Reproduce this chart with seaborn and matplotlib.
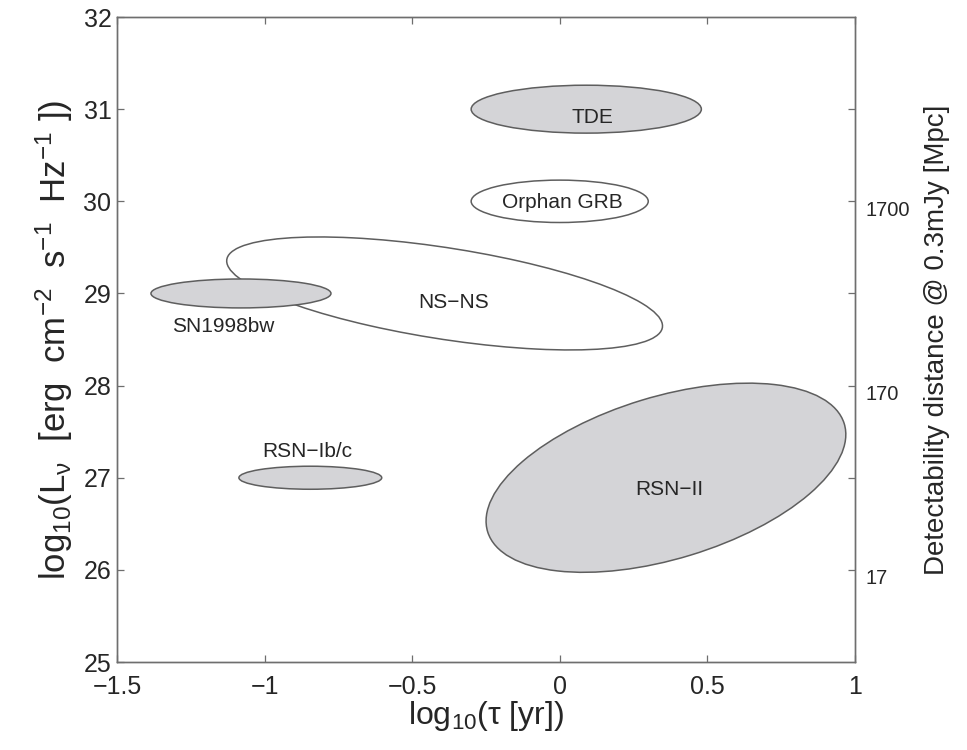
import numpy as np
import matplotlib
matplotlib.use("Agg")
import matplotlib.pyplot as plt
import matplotlib.transforms as mtransforms
from matplotlib.patches import Ellipse
import seaborn as sns

# Source classes in the (log timescale, log luminosity) plane
names = ["TDE", "Orphan GRB", "NS\u2212NS", "SN1998bw", "RSN\u2212Ib/c", "RSN\u2212II"]
center_x = [0.09, 0.0, -0.39, -1.08, -0.845, 0.36]
center_y = [31.0, 30.0, 29.0, 29.0, 27.0, 27.0]
semi_a = [0.39, 0.30, 0.857, 0.305, 0.242, 1.076]
semi_b = [0.26, 0.23, 0.432, 0.157, 0.125, 0.517]
angle_deg = [0.0, 0.0, -36.0, 0.0, 0.0, 70.0]
filled = [True, False, False, True, True, True]
label_x = [0.11, 0.01, -0.36, -1.14, -0.855, 0.37]
label_y = [30.91, 29.99, 28.9, 28.64, 27.28, 26.87]

x_ticks = [-1.5, -1, -0.5, 0, 0.5, 1]
x_tick_labels = ["\u22121.5", "\u22121", "\u22120.5", "0", "0.5", "1"]
y_ticks = [25, 26, 27, 28, 29, 30, 31, 32]
dist_ticks = [26, 27, 28, 29, 30, 31]
dist_tick_labels = ["17", "", "170", "", "1700", ""]

sns.set_theme(style="ticks")
plt.rcParams["font.family"] = ["Liberation Sans", "DejaVu Sans"]
plt.rcParams["mathtext.default"] = "regular"

axis_color = "#6e6e6e"
text_color = "#262626"
fill_color = "#d4d4d7"
edge_color = "#5e5e5e"

fig = plt.figure(figsize=(9.67, 7.5), dpi=100)
ax = fig.add_axes([0.121, 0.1173, 0.763, 0.86])

order = [2, 0, 1, 3, 4, 5]
for i in order:
    e = Ellipse((center_x[i], center_y[i]), width=2 * semi_a[i], height=2 * semi_b[i],
                angle=angle_deg[i], facecolor=fill_color if filled[i] else "white",
                edgecolor=edge_color, linewidth=1.1, zorder=2 + (1 if i == 3 else 0))
    ax.add_patch(e)
    ax.text(label_x[i], label_y[i], names[i], ha="center", va="center",
            fontsize=15, color=text_color, zorder=5)

ax.set_xlim(-1.5, 1)
ax.set_ylim(25, 32)
ax.set_xticks(x_ticks)
ax.set_xticklabels(x_tick_labels)
ax.set_yticks(y_ticks)
ax.tick_params(axis="both", direction="in", length=5, width=0.9, color=axis_color,
               labelsize=18, labelcolor=text_color, pad=4)
ax.tick_params(axis="x", top=True, pad=9)
for s in ax.spines.values():
    s.set_color(axis_color)
    s.set_linewidth(1.0)

ax.set_xlabel("log$_{10}$(\u03c4 [yr])", fontsize=23, color=text_color, labelpad=0)
ax.set_ylabel("log$_{10}$(L$_{\u03bd}$  [erg  cm$^{-2}$  s$^{-1}$  Hz$^{-1}$ ])",
              fontsize=25, color=text_color, labelpad=6)

ax2 = ax.twinx()
ax2.set_ylim(25, 32)
ax2.set_yticks(dist_ticks)
ax2.set_yticklabels(dist_tick_labels)
ax2.tick_params(axis="y", direction="in", length=5, width=0.9, color=axis_color,
                labelsize=14.5, labelcolor=text_color, pad=8)
shift = mtransforms.ScaledTranslation(0, -7 / 100, fig.dpi_scale_trans)
for lbl in ax2.get_yticklabels():
    lbl.set_transform(lbl.get_transform() + shift)
for s in ax2.spines.values():
    s.set_color(axis_color)
    s.set_linewidth(1.0)
ax2.set_ylabel("Detectability distance @ 0.3mJy [Mpc]", fontsize=20,
               color=text_color, labelpad=10)

fig.savefig("out.png", dpi=100, facecolor="white")
